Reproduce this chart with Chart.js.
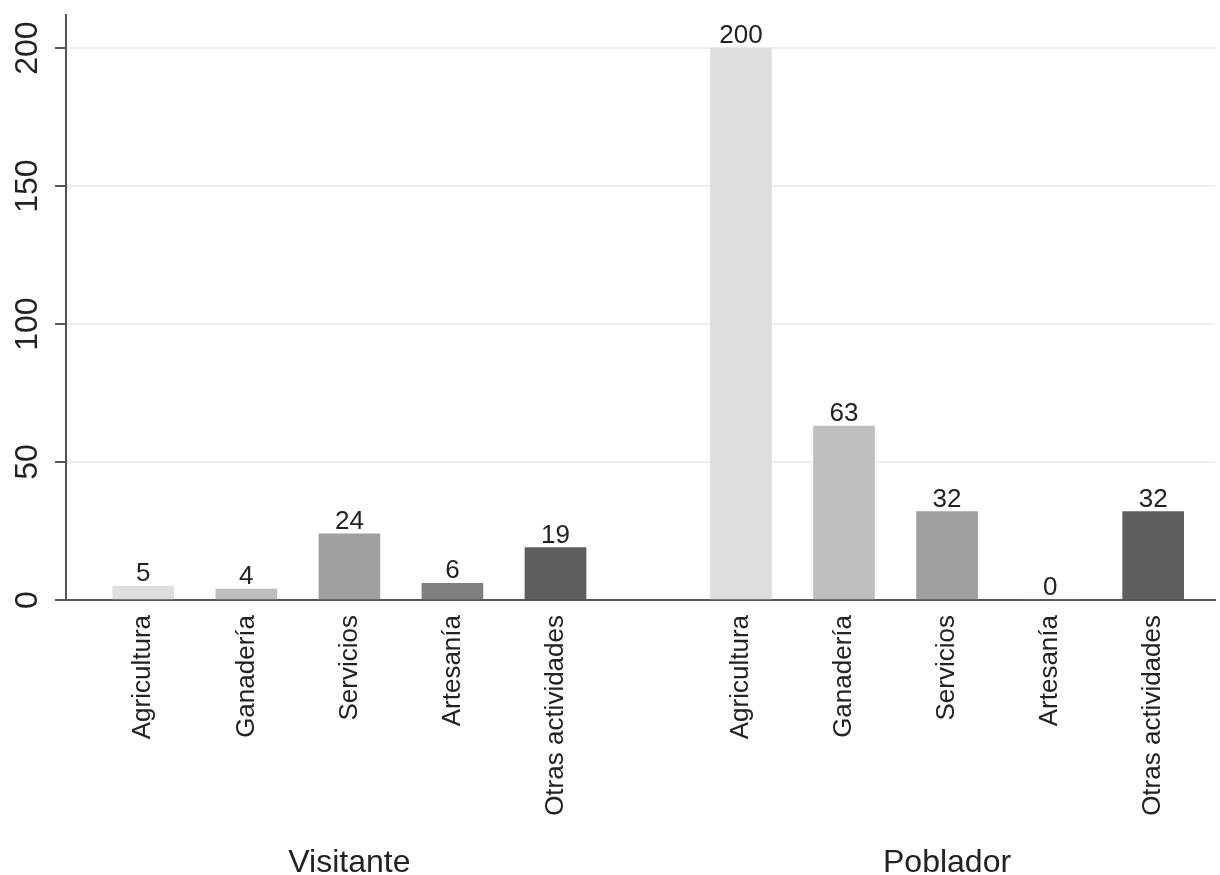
<!DOCTYPE html>
<html>
<head>
<meta charset="utf-8">
<script src="https://cdn.jsdelivr.net/npm/chart.js@4.4.1/dist/chart.umd.min.js"></script>
<style>
  html, body { margin: 0; padding: 0; background: #fff; }
  #wrap { width: 1220px; height: 875px; }
</style>
</head>
<body>
<div id="wrap"><canvas id="actChart"></canvas></div>
<script>
const categories = ['Agricultura', 'Ganadería', 'Servicios', 'Artesanía', 'Otras actividades'];
const groups = ['Visitante', 'Poblador'];
const visitanteValues = [5, 4, 24, 6, 19];
const pobladorValues = [200, 63, 32, 0, 32];
const yTicks = [0, 50, 100, 150, 200];

const barColors = ['#dedede', '#bebebe', '#a0a0a0', '#7f7f7f', '#5e5e5e'];
const fontFamily = '"Liberation Sans", Arial, Helvetica, sans-serif';

// slot positions on the x axis: each group is 5 slots, with a wider gap between groups
const groupStart = [0.75, 6.55];
const xPos = (g, i) => groupStart[g] + i;

const tickPositions = [];
const tickNames = {};
groups.forEach((g, gi) => {
    categories.forEach((c, i) => {
        tickPositions.push(xPos(gi, i));
        tickNames[xPos(gi, i).toFixed(2)] = c;
    });
});

const makeData = (values, g) => values.map((v, i) => ({ x: xPos(g, i), y: v }));

// value labels, rotated y tick labels and group titles
const textPlugin = {
    id: 'textPlugin',
    afterDatasetsDraw(chart) {
        const ctx = chart.ctx;
        ctx.save();
        ctx.fillStyle = '#222';
        ctx.textAlign = 'center';
        ctx.textBaseline = 'alphabetic';

        ctx.font = '26px ' + fontFamily;
        chart.data.datasets.forEach((ds, d) => {
            chart.getDatasetMeta(d).data.forEach((bar, i) => {
                ctx.fillText(String(ds.data[i].y), bar.x, bar.y - 5);
            });
        });

        const yScale = chart.scales.y;
        ctx.font = '32px ' + fontFamily;
        yScale.ticks.forEach(t => {
            ctx.save();
            ctx.translate(37, yScale.getPixelForValue(t.value));
            ctx.rotate(-Math.PI / 2);
            ctx.fillText(String(t.value), 0, 0);
            ctx.restore();
        });

        const xScale = chart.scales.x;
        groups.forEach((g, gi) => {
            ctx.fillText(g, xScale.getPixelForValue(xPos(gi, 2)), 872);
        });
        ctx.restore();
    }
};

const actConfig = {
    type: 'bar',
    data: {
        datasets: [{
            label: groups[0],
            data: makeData(visitanteValues, 0),
            backgroundColor: barColors,
        }, {
            label: groups[1],
            data: makeData(pobladorValues, 1),
            backgroundColor: barColors,
        }],
    },
    options: {
        responsive: true,
        maintainAspectRatio: false,
        animation: false,
        grouped: false,
        barThickness: 61,
        layout: {
            padding: { top: 15, right: 5, left: 0, bottom: 0 },
        },
        scales: {
            x: {
                type: 'linear',
                offset: false,
                min: 0,
                max: 11.15,
                afterBuildTicks: s => { s.ticks = tickPositions.map(v => ({ value: v })); },
                afterFit: s => { s.height = 275; },
                grid: { display: false },
                border: { display: true, color: '#555', width: 2 },
                ticks: {
                    autoSkip: false,
                    minRotation: 90,
                    maxRotation: 90,
                    padding: 7,
                    color: '#222',
                    font: { family: fontFamily, size: 26 },
                    callback: v => tickNames[Number(v).toFixed(2)] || '',
                },
            },
            y: {
                min: 0,
                max: 212,
                afterBuildTicks: s => { s.ticks = yTicks.map(v => ({ value: v })); },
                afterFit: s => { s.width = 66; },
                grid: {
                    color: '#eeeeee',
                    lineWidth: 2,
                    tickColor: '#555',
                    tickLength: 11,
                    tickWidth: 2,
                },
                border: { display: true, color: '#555', width: 2 },
                ticks: { display: false },
            },
        },
        plugins: {
            legend: { display: false },
            tooltip: { enabled: false },
        },
    },
    plugins: [textPlugin],
};

const actChart = new Chart(document.getElementById('actChart').getContext('2d'), actConfig);
</script>
</body>
</html>
